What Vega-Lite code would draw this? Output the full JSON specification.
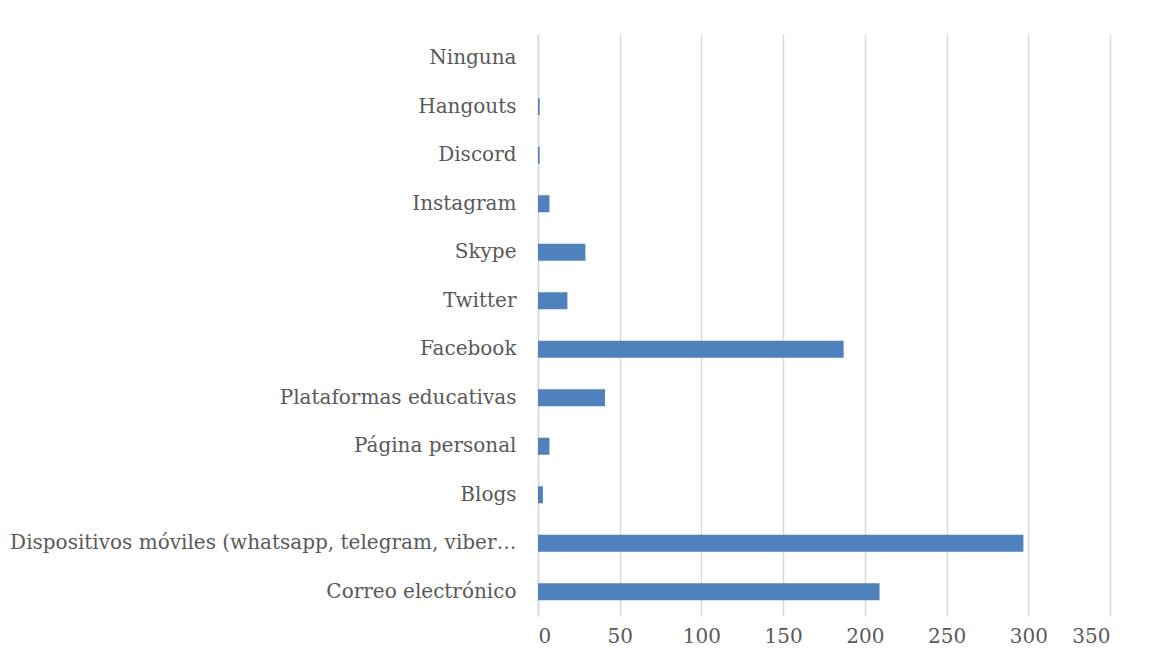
{
  "$schema": "https://vega.github.io/schema/vega-lite/v6.json",
  "autosize": "none",
  "width": 572,
  "height": 582,
  "padding": {"left": 538, "top": 34, "right": 41, "bottom": 56},
  "background": "white",
  "data": {
    "values": [
      {"medio": "Correo electrónico", "cantidad": 209},
      {"medio": "Dispositivos móviles (whatsapp, telegram, viber…", "cantidad": 297},
      {"medio": "Blogs", "cantidad": 3},
      {"medio": "Página personal", "cantidad": 7},
      {"medio": "Plataformas educativas", "cantidad": 41},
      {"medio": "Facebook", "cantidad": 187},
      {"medio": "Twitter", "cantidad": 18},
      {"medio": "Skype", "cantidad": 29},
      {"medio": "Instagram", "cantidad": 7},
      {"medio": "Discord", "cantidad": 1},
      {"medio": "Hangouts", "cantidad": 1},
      {"medio": "Ninguna", "cantidad": 0}
    ]
  },
  "mark": {"type": "bar", "size": 17, "color": "#4f81bd"},
  "encoding": {
    "y": {
      "field": "medio",
      "type": "nominal",
      "sort": ["Ninguna", "Hangouts", "Discord", "Instagram", "Skype", "Twitter", "Facebook", "Plataformas educativas", "Página personal", "Blogs", "Dispositivos móviles (whatsapp, telegram, viber…", "Correo electrónico"],
      "scale": {"paddingInner": 0, "paddingOuter": 0},
      "axis": {
        "title": null,
        "ticks": false,
        "domain": true,
        "domainColor": "#d9d9d9",
        "domainWidth": 1.5,
        "labelFont": "DejaVu Serif",
        "labelFontSize": 20,
        "labelColor": "#595959",
        "labelPadding": 22,
        "labelLimit": 600,
        "grid": false
      }
    },
    "x": {
      "field": "cantidad",
      "type": "quantitative",
      "scale": {"domain": [0, 350], "nice": false},
      "axis": {
        "title": null,
        "values": [0, 50, 100, 150, 200, 250, 300, 350],
        "ticks": false,
        "domain": false,
        "grid": true,
        "gridColor": "#d9d9d9",
        "gridWidth": 1.5,
        "labelFont": "DejaVu Serif",
        "labelFontSize": 20,
        "labelColor": "#595959",
        "labelPadding": 10
      }
    }
  },
  "config": {"view": {"stroke": null}}
}
